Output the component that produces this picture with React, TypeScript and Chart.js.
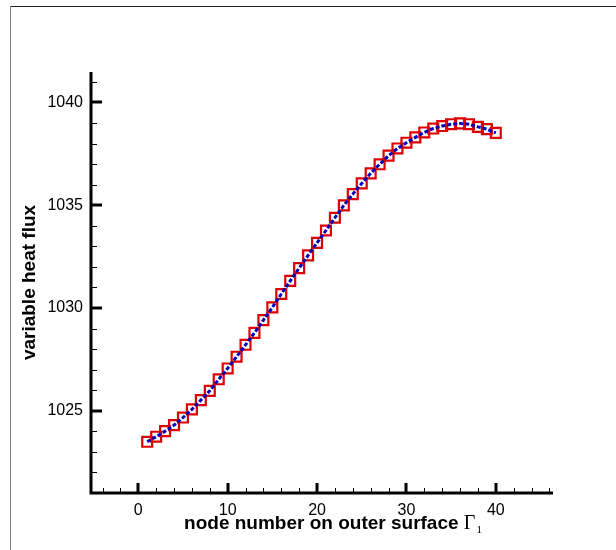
import React, { useEffect, useRef } from "react";
import { Chart, registerables } from "chart.js";

Chart.register(...registerables);

const nodes: number[] = Array.from({ length: 40 }, (_, i) => i + 1);
const heatFlux: number[] = [
  1023.49, 1023.74, 1024.01, 1024.3, 1024.67, 1025.07, 1025.52, 1025.97, 1026.53, 1027.06,
  1027.63, 1028.21, 1028.79, 1029.41, 1030.03, 1030.68, 1031.32, 1031.94, 1032.56, 1033.17,
  1033.77, 1034.39, 1034.99, 1035.54, 1036.06, 1036.55, 1036.99, 1037.41, 1037.76, 1038.04,
  1038.3, 1038.54, 1038.73, 1038.85, 1038.94, 1038.98, 1038.94, 1038.81, 1038.7, 1038.52,
];
const xMajorTicks: number[] = [0, 10, 20, 30, 40];
const yMajorTicks: number[] = [1025, 1030, 1035, 1040];
const xTitle = "node number on outer surface ";
const xTitleSymbol = "Γ";
const xTitleSub = "1";
const yTitle = "variable heat flux";

const SANS = "'Liberation Sans', Arial, Helvetica, sans-serif";
const SERIF = "'Liberation Serif', 'Times New Roman', serif";

const decorPlugin = {
  id: "decor",
  beforeDraw(chart: any) {
    const ctx = chart.ctx;
    ctx.save();
    ctx.fillStyle = "#ffffff";
    ctx.fillRect(0, 0, chart.width, chart.height);
    ctx.strokeStyle = "#222222";
    ctx.lineWidth = 1;
    ctx.beginPath();
    ctx.moveTo(10, 6.5);
    ctx.lineTo(chart.width, 6.5);
    ctx.stroke();
    ctx.strokeStyle = "#808080";
    ctx.beginPath();
    ctx.moveTo(10.5, 6);
    ctx.lineTo(10.5, chart.height);
    ctx.stroke();
    ctx.restore();
  },
  afterDraw(chart: any) {
    const ctx = chart.ctx;
    const xs = chart.scales.x;
    const ys = chart.scales.y;
    const { left, right, top, bottom } = chart.chartArea;
    ctx.save();
    ctx.strokeStyle = "#000000";
    ctx.lineCap = "butt";
    ctx.lineWidth = 3;
    ctx.beginPath();
    ctx.moveTo(left + 1, top);
    ctx.lineTo(left + 1, bottom + 1.5);
    ctx.moveTo(left - 0.5, bottom);
    ctx.lineTo(right, bottom);
    ctx.stroke();
    for (let v = -4; v <= 46; v += 2) {
      const px = Math.round(xs.getPixelForValue(v));
      const major = v % 10 === 0;
      ctx.lineWidth = major ? 3 : 1;
      ctx.beginPath();
      ctx.moveTo(px + (major ? 0 : 0.5), bottom);
      ctx.lineTo(px + (major ? 0 : 0.5), bottom - (major ? 10 : 5));
      ctx.stroke();
    }
    for (let v = 1022; v <= 1041; v += 1) {
      const py = Math.round(ys.getPixelForValue(v));
      const major = v % 5 === 0;
      ctx.lineWidth = major ? 3 : 1;
      ctx.beginPath();
      ctx.moveTo(left, py + (major ? 0 : 0.5));
      ctx.lineTo(left + (major ? 12 : 7), py + (major ? 0 : 0.5));
      ctx.stroke();
    }
    ctx.fillStyle = "#000000";
    ctx.font = `bold 19px ${SANS}`;
    ctx.textAlign = "center";
    ctx.textBaseline = "middle";
    ctx.save();
    ctx.translate(30, (top + bottom) / 2);
    ctx.rotate(-Math.PI / 2);
    ctx.fillText(yTitle, 0, 0);
    ctx.restore();
    ctx.textBaseline = "alphabetic";
    ctx.textAlign = "left";
    ctx.font = `bold 19px ${SANS}`;
    const w1 = ctx.measureText(xTitle).width;
    ctx.font = `20px ${SERIF}`;
    const w2 = ctx.measureText(xTitleSymbol).width;
    ctx.font = `11px ${SERIF}`;
    const w3 = ctx.measureText(xTitleSub).width;
    const total = w1 + w2 + w3 + 1;
    const startX = 333 - total / 2;
    const baseY = 529;
    ctx.font = `bold 19px ${SANS}`;
    ctx.fillText(xTitle, startX, baseY);
    ctx.font = `20px ${SERIF}`;
    ctx.fillText(xTitleSymbol, startX + w1, baseY);
    ctx.font = `11px ${SERIF}`;
    ctx.fillText(xTitleSub, startX + w1 + w2 + 1, baseY + 4);
    ctx.restore();
  },
};

export default function App() {
  const ref = useRef<HTMLCanvasElement | null>(null);
  useEffect(() => {
    document.body.style.margin = "0";
    const canvas = ref.current;
    if (!canvas) return;
    const chart = new Chart(canvas, {
      type: "line",
      data: {
        datasets: [
          {
            label: "line",
            data: nodes.map((n, i) => ({ x: n, y: heatFlux[i] })),
            borderColor: "#0000b8",
            borderWidth: 3,
            borderDash: [4, 2],
            pointRadius: 0,
            fill: false,
            tension: 0,
            order: 1,
          },
          {
            label: "markers",
            data: nodes.map((n, i) => ({ x: n, y: heatFlux[i] })),
            showLine: false,
            pointStyle: "rect",
            pointRadius: 7,
            pointBorderWidth: 2.2,
            pointBorderColor: "#dd0000",
            pointBackgroundColor: "rgba(0,0,0,0)",
            order: 2,
          },
        ],
      },
      options: {
        animation: false,
        responsive: false,
        events: [],
        layout: { padding: { left: 0, top: 72, right: 63, bottom: 0 } },
        plugins: { legend: { display: false }, tooltip: { enabled: false } },
        scales: {
          x: {
            type: "linear",
            min: -5.4,
            max: 46.4,
            grid: { display: false, drawTicks: false },
            border: { display: false },
            afterFit: (s: any) => {
              s.height = 57;
            },
            afterBuildTicks: (s: any) => {
              s.ticks = xMajorTicks.map((v) => ({ value: v }));
            },
            ticks: {
              autoSkip: false,
              maxRotation: 0,
              padding: 8,
              color: "#000000",
              font: { family: SANS, size: 16 },
              callback: (v: any) => String(v),
            },
          },
          y: {
            type: "linear",
            min: 1021,
            max: 1041.48,
            grid: { display: false, drawTicks: false },
            border: { display: false },
            afterFit: (s: any) => {
              s.width = 90;
            },
            afterBuildTicks: (s: any) => {
              s.ticks = yMajorTicks.map((v) => ({ value: v }));
            },
            ticks: {
              autoSkip: false,
              padding: 7,
              color: "#000000",
              font: { family: SANS, size: 16 },
              callback: (v: any) => String(v),
            },
          },
        },
      },
      plugins: [decorPlugin],
    } as any);
    return () => chart.destroy();
  }, []);
  return <canvas ref={ref} width={616} height={550} style={{ display: "block" }} />;
}
